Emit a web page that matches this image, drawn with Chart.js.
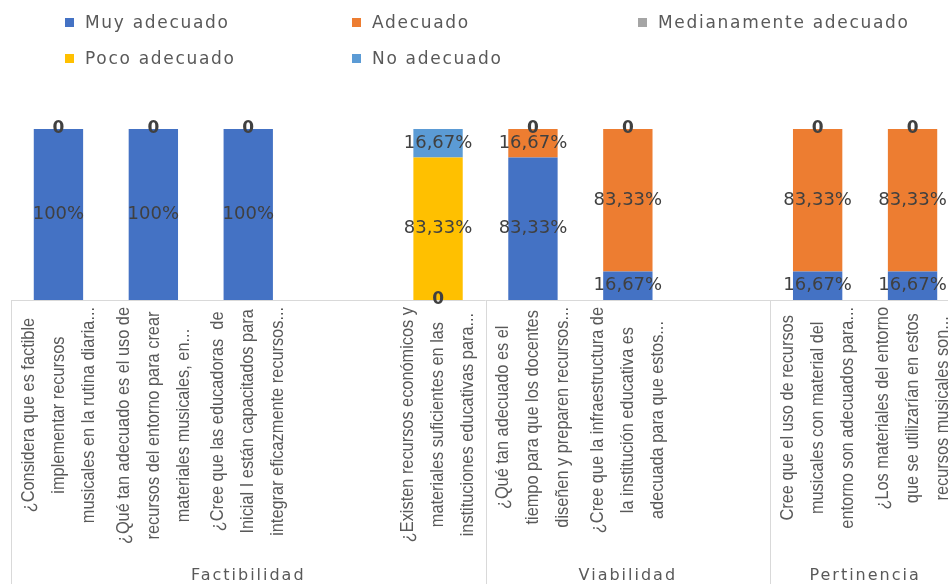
<!DOCTYPE html>
<html>
<head>
<meta charset="utf-8">
<title>Factibilidad, Viabilidad, Pertinencia</title>
<script src="https://cdn.jsdelivr.net/npm/chart.js@4.4.1/dist/chart.umd.min.js"></script>
<style>
  html, body { margin: 0; padding: 0; background: #fff; overflow: hidden; }
  #wrap { position: relative; width: 948px; height: 584px; overflow: hidden; }
  #myChart { position: absolute; left: 0; top: 0; }
  #legend { position: absolute; left: 0; top: 0; width: 948px; height: 80px; }
  .item { position: absolute; height: 20px; line-height: 20px; white-space: nowrap;
          font-family: "DejaVu Sans", sans-serif; font-size: 17px; letter-spacing: 1.7px; color: #595959; }
  .box { position: absolute; left: 0; top: 6px; width: 9px; height: 9px; }
  .txt { position: absolute; left: 20px; top: 0; }
</style>
</head>
<body>
<div id="wrap">
  <canvas id="myChart" width="960" height="584"></canvas>
  <div id="legend"></div>
</div>
<script>
var seriesNames = ["Muy adecuado", "Adecuado", "Medianamente adecuado", "Poco adecuado", "No adecuado"];
var seriesColors = ["#4472C4", "#ED7D31", "#A5A5A5", "#FFC000", "#5B9BD5"];

// one entry per category slot, "" = empty slot
var questions = [
  ["¿Considera que es factible", "implementar recursos", "musicales en la rutina diaria..."],
  ["¿Qué tan adecuado es el uso de", "recursos del entorno para crear", "materiales musicales, en..."],
  ["¿Cree que las educadoras  de", "Inicial I están capacitados para", "integrar eficazmente recursos..."],
  [""],
  ["¿Existen recursos económicos y", "materiales suficientes en las", "instituciones educativas para..."],
  ["¿Qué tan adecuado es el", "tiempo para que los docentes", "diseñen y preparen recursos..."],
  ["¿Cree que la infraestructura de", "la institución educativa es", "adecuada para que estos..."],
  [""],
  ["Cree que el uso de recursos", "musicales con material del", "entorno son adecuados para..."],
  ["¿Los materiales del entorno", "que se utilizarían en estos", "recursos musicales son..."]
];
var groups = ["Factibilidad", "Viabilidad", "Pertinencia"];
var groupSizes = [5, 3, 2];

var muyAdecuado = [100, 100, 100, null, 0, 83.33, 16.67, null, 16.67, 16.67];
var adecuado = [0, 0, 0, null, null, 16.67, 83.33, null, 83.33, 83.33];
var medianamente = [null, null, null, null, null, 0, 0, null, 0, 0];
var pocoAdecuado = [null, null, null, null, 83.33, null, null, null, null, null];
var noAdecuado = [null, null, null, null, 16.67, null, null, null, null, null];

var seriesData = [muyAdecuado, adecuado, medianamente, pocoAdecuado, noAdecuado];

function fmt(v) {
  if (v === 0) return "0";
  if (Math.round(v) === v) return v + "%";
  return v.toFixed(2).replace(".", ",") + "%";
}

var datasets = [];
for (var i = 0; i < seriesNames.length; i++) {
  datasets.push({
    label: seriesNames[i],
    data: seriesData[i],
    backgroundColor: seriesColors[i],
    borderWidth: 0,
    categoryPercentage: 0.52,
    barPercentage: 1
  });
}

var axisBoxes = {
  id: "axisBoxes",
  beforeDatasetsDraw: function (chart) {
    var ctx = chart.ctx;
    var area = chart.chartArea;
    var bottom = chart.height;
    ctx.save();
    ctx.strokeStyle = "#D9D9D9";
    ctx.lineWidth = 1;
    ctx.beginPath();
    ctx.moveTo(area.left, area.bottom + 0.5);
    ctx.lineTo(area.right, area.bottom + 0.5);
    var slot = (area.right - area.left) / questions.length;
    var idx = 0;
    var edges = [0];
    for (var g = 0; g < groupSizes.length; g++) {
      idx += groupSizes[g];
      edges.push(idx);
    }
    for (var e = 0; e < edges.length - 1; e++) {
      var px = Math.round(area.left + edges[e] * slot) + 0.5;
      ctx.moveTo(px, area.bottom);
      ctx.lineTo(px, bottom);
    }
    ctx.stroke();
    ctx.restore();
  },
  afterDatasetsDraw: function (chart) {
    var ctx = chart.ctx;
    ctx.save();
    ctx.textAlign = "center";
    ctx.textBaseline = "middle";
    ctx.fillStyle = "#404040";
    chart.data.datasets.forEach(function (ds, d) {
      var meta = chart.getDatasetMeta(d);
      meta.data.forEach(function (bar, i) {
        var v = ds.data[i];
        if (v === null || v === undefined) return;
        var y = (bar.y + bar.base) / 2;
        ctx.font = v === 0 ? "bold 17px 'DejaVu Sans', sans-serif" : "18px 'DejaVu Sans', sans-serif";
        ctx.fillText(fmt(v), bar.x, y);
      });
    });
    ctx.restore();
  },
  afterDraw: function (chart) {
    var ctx = chart.ctx;
    var area = chart.chartArea;
    var x = chart.scales.x;
    var squeeze = 0.86;
    ctx.save();
    ctx.fillStyle = "#595959";
    ctx.font = "19px 'Liberation Sans'";
    ctx.textAlign = "center";
    ctx.textBaseline = "middle";
    for (var i = 0; i < questions.length; i++) {
      var lines = questions[i];
      var cx = x.getPixelForValue(i);
      var maxLen = 0;
      lines.forEach(function (t) { maxLen = Math.max(maxLen, ctx.measureText(t).width * squeeze); });
      var cy = area.bottom + 7 + maxLen / 2;
      for (var j = 0; j < lines.length; j++) {
        ctx.save();
        ctx.translate(cx + (j - (lines.length - 1) / 2) * 30, cy);
        ctx.rotate(-Math.PI / 2);
        ctx.scale(squeeze, 1);
        ctx.fillText(lines[j], 0, 0);
        ctx.restore();
      }
    }
    ctx.font = "16px 'DejaVu Sans'";
    ctx.letterSpacing = "2px";
    var slot = (area.right - area.left) / questions.length;
    var start = 0;
    for (var g = 0; g < groups.length; g++) {
      var gx = area.left + (start + groupSizes[g] / 2) * slot;
      ctx.fillText(groups[g], gx, 576);
      start += groupSizes[g];
    }
    ctx.restore();
  }
};

function buildLegend(chart) {
  var cols = [65, 352, 638];
  var rows = [12, 48];
  var html = "";
  chart.data.datasets.forEach(function (ds, i) {
    var left = cols[i % 3];
    var top = rows[Math.floor(i / 3)];
    html += '<div class="item" style="left:' + left + 'px;top:' + top + 'px">' +
      '<span class="box" style="background:' + ds.backgroundColor + '"></span>' +
      '<span class="txt">' + ds.label + '</span></div>';
  });
  document.getElementById("legend").innerHTML = html;
}

var ctx = document.getElementById("myChart").getContext("2d");
var chart = new Chart(ctx, {
  type: "bar",
  data: {
    labels: questions,
    datasets: datasets
  },
  options: {
    responsive: false,
    animation: false,
    layout: { padding: { left: 11, right: 0, top: 129, bottom: 284 } },
    plugins: {
      legend: { display: false },
      tooltip: { enabled: false }
    },
    scales: {
      x: { display: false, stacked: true, offset: true },
      y: { display: false, stacked: true, min: 0, max: 100 }
    }
  },
  plugins: [axisBoxes]
});
buildLegend(chart);
</script>
</body>
</html>
